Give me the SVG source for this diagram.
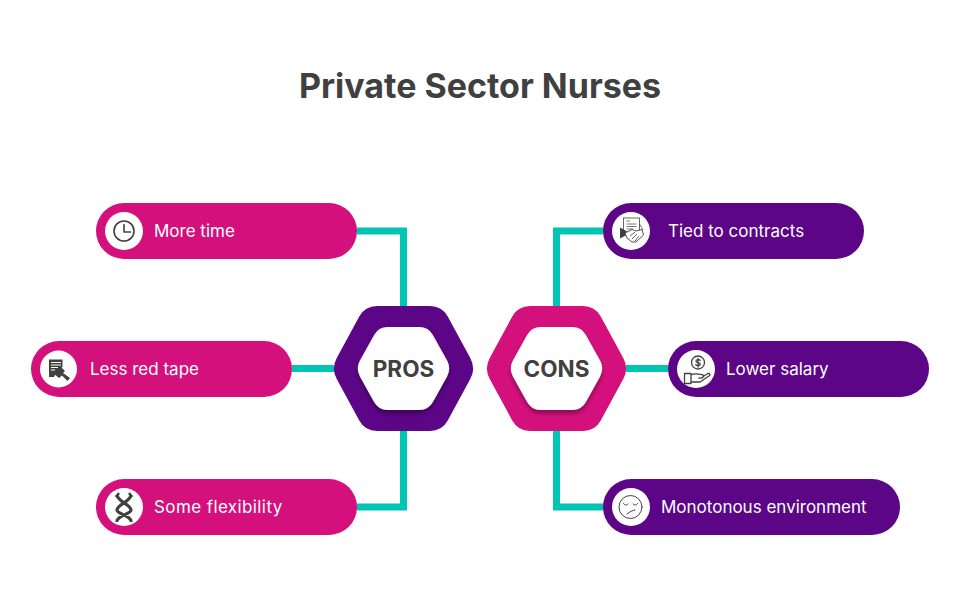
<svg xmlns="http://www.w3.org/2000/svg" width="960" height="600" viewBox="0 0 960 600">
<style>
text{font-family:"Inter","Liberation Sans",sans-serif}
.title{font-size:34px;font-weight:700;fill:#404040;text-anchor:middle}
.hex{font-size:22.500px;font-weight:700;fill:#404040;text-anchor:middle}
.lbl{font-size:17px;font-weight:400;fill:#fff}
.pink{fill:#d4107c}.purple{fill:#5c0587}
.conn{fill:none;stroke:#00c4b4;stroke-width:7}
.ic{fill:none;stroke:#404040;stroke-width:1.3;stroke-linecap:round;stroke-linejoin:round}
.icd{fill:#404040;stroke:none}
.spot{fill:#fff}
</style>
<defs>
<filter id="sh" x="-30%" y="-30%" width="160%" height="170%"><feDropShadow dx="0" dy="3.500" stdDeviation="2.200" flood-color="#000" flood-opacity=".35"/></filter>
<path id="outer" d="M-26.5,-62.5L26.5,-62.5Q38.5,-62.5 44.25,-52L66.75,-10.5Q72.5,0 66.75,10.5L44.25,52Q38.5,62.5 26.5,62.5L-26.5,62.5Q-38.5,62.5 -44.25,52L-66.75,10.5Q-72.5,0 -66.75,-10.5L-44.25,-52Q-38.5,-62.5 -26.5,-62.5Z"/>
<path id="inner" d="M-16,-41.5L16,-41.5Q25,-41.5 29.4,-33.6L43.6,-7.9Q48,0 43.6,7.9L29.4,33.6Q25,41.5 16,41.5L-16,41.5Q-25,41.5 -29.4,33.6L-43.6,7.9Q-48,0 -43.6,-7.9L-29.4,-33.6Q-25,-41.5 -16,-41.5Z"/>
</defs>
<rect width="960" height="600" fill="#fff"/>
<text class="title" x="480" y="98">Private Sector Nurses</text>
<g id="connectors">
<path class="conn" d="M357,231H403.5V306"/>
<path class="conn" d="M292,368.500H334"/>
<path class="conn" d="M357,507H403.5V431"/>
<path class="conn" d="M603,231H556.500V306"/>
<path class="conn" d="M626,368.500H668"/>
<path class="conn" d="M603,507H556.500V431"/>
</g>
<g id="pros">
<use href="#outer" class="purple" x="403.5" y="368.5"/>
<use href="#inner" fill="#fff" x="403.5" y="368.5" filter="url(#sh)"/>
<text class="hex" x="403.500" y="377">PROS</text>
</g>
<g id="cons">
<use href="#outer" class="pink" x="556.5" y="368.5"/>
<use href="#inner" fill="#fff" x="556.5" y="368.5" filter="url(#sh)"/>
<text class="hex" x="556.500" y="377">CONS</text>
</g>
<g id="more-time">
<rect class="pink" x="96" y="203" width="261" height="56" rx="28"/>
<circle class="spot" cx="124" cy="231" r="19"/>
<circle class="ic" cx="124" cy="231" r="10" style="stroke-width:1.600"/>
<path class="ic" d="M124,224.500V232H130.500" style="stroke-width:1.600"/>
<text class="lbl" x="154" y="237">More time</text>
</g>
<g id="less-red-tape">
<rect class="pink" x="31" y="341" width="261" height="56" rx="28"/>
<circle class="spot" cx="58.500" cy="369" r="18.500"/>
<path class="icd" d="M49,359.500H62.500V367L57,371L54,377H49Z"/>
<path d="M51,362.500H61M51,365H61M51,367.500H58M51,370H55" fill="none" stroke="#fff" stroke-width="1"/>
<path class="icd" d="M60,366L65,371L63,373L70,378L67.500,381L62,375.500L59,378L53,373Z"/>
<text class="lbl" x="90" y="375">Less red tape</text>
</g>
<g id="some-flexibility">
<rect class="pink" x="96" y="479" width="261" height="56" rx="28"/>
<circle class="spot" cx="124" cy="507" r="19"/>
<path d="M117,495C117,501 131,505 131,510C131,514 116,516 117,522M131,495C131,501 117,505 117,510C117,514 132,516 131,522" fill="none" stroke="#404040" stroke-width="3.200"/>
<path d="M116,497L119,493M132,497L129,493" fill="none" stroke="#404040" stroke-width="2.500"/>
<text class="lbl" x="154" y="513" style="letter-spacing:.4px">Some flexibility</text>
</g>
<g id="tied-to-contracts">
<rect class="purple" x="603" y="203" width="261" height="56" rx="28"/>
<circle class="spot" cx="631" cy="231" r="19"/>
<rect x="623.500" y="218" width="16" height="14" fill="none" stroke="#404040" stroke-width=".8"/>
<path fill="none" stroke="#404040" stroke-width=".7" d="M626.500,221H630M626.500,224H636.500M626.500,226.500H636.500M626.500,229H633M639.500,224L643,230"/>
<path class="icd" d="M620,227.500L626.500,231L626.500,235L620,238.500Z"/>
<path d="M625,233L632,229.500L636,231L642,229.500L643.500,235L636,242H632L627,238Z" fill="#fff" stroke="#404040" stroke-width=".9" stroke-linejoin="round"/>
<path d="M630,236L635,232M632,239L637,234M635,241L639,236" fill="none" stroke="#404040" stroke-width=".8"/>
<text class="lbl" x="668" y="237">Tied to contracts</text>
</g>
<g id="lower-salary">
<rect class="purple" x="668" y="341" width="261" height="56" rx="28"/>
<circle class="spot" cx="696" cy="369" r="19"/>
<circle class="ic" cx="698" cy="362.500" r="6.500"/>
<path class="ic" d="M700.300,360.300C699.300,359.300 696,359.300 696,361.300C696,363.300 700.300,362 700.300,364.200C700.300,366 697,366 695.700,364.800M698,358.500V367"/>
<path class="ic" d="M684.500,373.500H691V383.500H684.500ZM691,375C695,372.500 698,374 703,375C705,376 703,378.500 699,378M703,376.500L708,373.500C710,373 710.500,375 709,376L700,382H691"/>
<text class="lbl" x="726" y="375">Lower salary</text>
</g>
<g id="monotonous-environment">
<rect class="purple" x="603" y="479" width="297" height="56" rx="28"/>
<circle class="spot" cx="631" cy="507" r="19"/>
<circle class="ic" cx="630.500" cy="507" r="11.500" style="stroke-width:1"/>
<path class="ic" d="M623.500,503.500C624.500,505.500 626.500,505.500 628,504M633,504C634.500,505.500 636.500,505.500 637.500,503.500M627,514C630,511.500 632.500,510.500 635,510" style="stroke-width:1"/>
<text class="lbl" x="661" y="513">Monotonous environment</text>
</g>
</svg>
